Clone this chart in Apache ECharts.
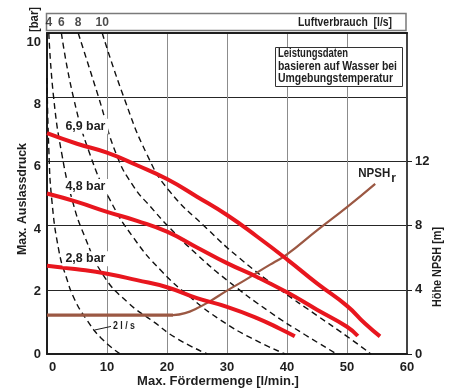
<!DOCTYPE html>
<html>
<head>
<meta charset="utf-8">
<script src="https://cdn.jsdelivr.net/npm/echarts@6/dist/echarts.min.js"></script>
<style>
html,body{margin:0;padding:0;background:#fff}
#chart{width:458px;height:392px}
</style>
</head>
<body>
<div id="chart"></div>
<script>
// Pump performance curves: discharge pressure vs. flow, air consumption lines and NPSHr.
const FONT = '"Liberation Sans","Arial",sans-serif';

// Flow axis (l/min), pressure axis (bar), NPSH axis (m)
const flowTicks = [0, 10, 20, 30, 40, 50, 60];
const pressureTicks = [0, 2, 4, 6, 8, 10];
const npshTicks = [0, 4, 8, 12];

// Discharge pressure curves at given air supply pressure: [flow, pressure]
const curveNames = ['6,9 bar', '4,8 bar', '2,8 bar'];
const curve69 = [[0,6.88],[5,6.55],[10,6.27],[15,5.88],[20,5.45],[25,4.9],[30,4.33],[35,3.66],[40,2.95],[45,2.2],[50,1.5],[53,0.95],[55.5,0.55]];
const curve48 = [[0,5.0],[5,4.74],[10,4.43],[15,4.15],[20,3.81],[25,3.32],[30,2.83],[35,2.4],[40,1.92],[45,1.38],[50,0.85],[51.8,0.56]];
const curve28 = [[0,2.75],[5,2.64],[10,2.5],[15,2.3],[20,2.08],[25,1.74],[30,1.47],[35,1.12],[38.9,0.78],[41.3,0.55]];

// Air consumption lines (l/s): [flow, pressure]
const airLabels = ['2', '4', '6', '8', '10'];
const air2 = [[0,8.6],[0.3,6.4],[0.8,4.8],[2.0,3.2],[3.2,2.4],[4.6,1.7],[6.5,1.1],[9.0,0.5],[12.2,0]];
const air4 = [[0.3,10],[1.1,8],[2.5,6.2],[4.2,4.8],[6.2,3.7],[9.4,2.45],[13.5,1.6],[17.8,1.0],[21.5,0.5],[26.7,0]];
const air6 = [[2.4,10],[4.4,8],[7.2,6.2],[10.5,4.8],[14.5,3.6],[19,2.6],[24,1.75],[29,1.05],[34,0.5],[39.7,0]];
const air8 = [[5.2,10],[8.6,8],[11.6,6.2],[14.5,5.2],[17.2,4.6],[20.6,3.9],[25,3.1],[30,2.3],[37.2,1.3],[43,0.6],[48.3,0]];
const air10 = [[9.2,10],[12.8,8],[16.7,6.2],[20.3,5.1],[26.7,3.9],[32,3.0],[38.9,2.0],[45,1.2],[50,0.55],[54,0]];

// Required NPSH (m) vs flow
const npshCurve = [[0,2.42],[21,2.42],[23,2.55],[25,2.85],[27,3.25],[30,3.95],[33,4.6],[36,5.3],[38,5.75],[40,6.2],[45,7.7],[50,9.15],[54.7,10.6]];

const chart = echarts.init(document.getElementById('chart'), null, {renderer: 'canvas'});

const pressureCurves = [curve69, curve48, curve28];
const airCurves = [air2, air4, air6, air8, air10];

const dark = '#1e1e1e';
const red = '#e8161e';
const brown = '#9b5843';

// horizontal squeeze so bold text fits a given width (condensed look)
const measureCtx = document.createElement('canvas').getContext('2d');
function squeeze(text, size, width) {
  measureCtx.font = 'bold ' + size + 'px ' + FONT;
  return Math.min(1, width / measureCtx.measureText(text).width);
}

const series = [];
airCurves.forEach((c, i) => {
  series.push({
    type: 'line', name: 'air' + airLabels[i], data: c, showSymbol: false, smooth: 0.5,
    lineStyle: {color: '#111', width: 1.4, type: [6, 4]}, z: 2, silent: true
  });
});
series.push({
  type: 'line', yAxisIndex: 1, data: npshCurve.slice(0, 2), showSymbol: false,
  lineStyle: {color: brown, width: 3.2}, z: 3, silent: true
});
series.push({
  type: 'line', yAxisIndex: 1, data: npshCurve.slice(1), showSymbol: false, smooth: 0.5,
  lineStyle: {color: brown, width: 2.2}, z: 3, silent: true
});
pressureCurves.forEach((c, i) => {
  series.push({
    type: 'line', name: curveNames[i], data: c, showSymbol: false, smooth: 0.5,
    lineStyle: {color: red, width: 4, cap: 'butt'}, z: 4, silent: true
  });
});
// air-flow values written above the plot, at the top of each line
series.push({
  type: 'scatter', symbolSize: 0, silent: true, z: 5,
  data: airCurves.slice(1).map((c, i) => ({value: c[0], label: {formatter: airLabels[i + 1]}})),
  label: {show: true, position: 'top', distance: 4, fontFamily: FONT, fontWeight: 'bold', fontSize: 12, color: dark}
});

// pressure tick labels sit a little below their grid lines
const yRich = {};
pressureTicks.forEach(v => {
  yRich['p' + v] = {padding: [Math.round(v * 1.8), 0, 0, 0], fontFamily: FONT, fontWeight: 'bold', fontSize: 13, color: dark};
});

chart.setOption({
  animation: false,
  backgroundColor: '#fff',
  grid: {left: 47, top: 33, width: 360, height: 321, containLabel: false},
  xAxis: [{
    type: 'value', min: flowTicks[0], max: flowTicks[flowTicks.length - 1], interval: 10,
    axisLine: {show: true, lineStyle: {color: dark, width: 2}},
    axisTick: {show: false},
    splitLine: {show: true, lineStyle: {color: '#8c8c8c', width: 1}},
    axisLabel: {
      margin: 7, fontFamily: FONT, fontWeight: 'bold', fontSize: 13, color: dark,
      formatter: v => v === 0 ? '{z|0}' : String(v),
      rich: {z: {padding: [0, 0, 0, 11], fontFamily: FONT, fontWeight: 'bold', fontSize: 13, color: dark}}
    }
  }, {
    type: 'value', position: 'top', min: 0, max: 60,
    axisLine: {show: true, onZero: false, lineStyle: {color: dark, width: 2}},
    axisTick: {show: false}, axisLabel: {show: false}, splitLine: {show: false}
  }],
  yAxis: [{
    type: 'value', min: pressureTicks[0], max: pressureTicks[pressureTicks.length - 1], interval: 2,
    axisLine: {show: true, lineStyle: {color: dark, width: 2}},
    axisTick: {show: false},
    splitLine: {show: true, lineStyle: {color: '#262626', width: 1}},
    axisLabel: {margin: 6, fontFamily: FONT, fontWeight: 'bold', fontSize: 13, color: dark,
      formatter: v => '{p' + v + '|' + v + '}', rich: yRich}
  }, {
    type: 'value', position: 'right', min: 0, max: 20, interval: 4,
    axisLine: {show: true, onZero: false, lineStyle: {color: '#444', width: 2}},
    axisTick: {show: true, length: 5, customValues: npshTicks, lineStyle: {color: dark}},
    splitLine: {show: false},
    axisLabel: {margin: 8, customValues: npshTicks, fontFamily: FONT, fontWeight: 'bold', fontSize: 13, color: dark,
      padding: [3, 0, 0, 0]}
  }],
  series: series
});

// annotations placed from data coordinates
const px = (pt, yi) => chart.convertToPixel({xAxisIndex: 0, yAxisIndex: yi || 0}, pt);
const graphics = [];

function label(text, x, y, size, width, opts) {
  return Object.assign({
    type: 'text', x: x, y: y, scaleX: squeeze(text, size, width), z: 6,
    style: {text: text, fontFamily: FONT, fontWeight: 'bold', fontSize: size, fill: dark,
      align: 'center', verticalAlign: 'middle'}
  }, opts || {});
}

// frame above the plot for air consumption values
graphics.push({type: 'rect', shape: {x: 46.5, y: 13.5, width: 359.5, height: 17}, style: {fill: 'none', stroke: '#7a7a7a', lineWidth: 1.5}, z: 1});
const lv = label('Luftverbrauch  [l/s]', 392, 23, 12, 94);
lv.style.align = 'right';
graphics.push(lv);

// axis titles
graphics.push(label('[bar]', 35, 19.5, 12, 25, {rotation: Math.PI / 2}));
graphics.push(label('Max. Auslassdruck', 22, 199, 13, 112, {rotation: Math.PI / 2}));
graphics.push(label('Max. Fördermenge [l/min.]', 218, 381, 13, 162));
graphics.push(label('Höhe NPSH [m]', 437, 267, 13, 80, {rotation: Math.PI / 2}));

// note box
graphics.push({type: 'rect', shape: {x: 275.5, y: 47.5, width: 127, height: 39}, style: {fill: '#fff', stroke: '#333', lineWidth: 1}, z: 6});
[['Leistungsdaten', 70], ['basieren auf Wasser bei', 119], ['Umgebungstemperatur', 115]].forEach((t, i) => {
  const g = label(t[0], 278, 54 + i * 12.4, 12, t[1], {z: 7});
  g.style.align = 'left';
  graphics.push(g);
});

// pressure curve names, just above each curve
pressureCurves.forEach((c, i) => {
  const p = px([6.4, c[0][1]]);
  const g = label(curveNames[i], p[0], p[1] - 7, 13, 40);
  g.style.backgroundColor = '#fff';
  g.style.padding = [1, 3];
  graphics.push(g);
});

// NPSHr label near the end of the curve
const npEnd = px(npshCurve[npshCurve.length - 1], 1);
graphics.push(label('NPSH', npEnd[0] - 1, npEnd[1] - 10, 13, 32));
graphics.push(label('r', npEnd[0] + 18.5, npEnd[1] - 5, 12, 8));

// 2 l/s label with leader line
const a2 = px([8, 0.75]);
graphics.push({type: 'line', shape: {x1: a2[0], y1: a2[1], x2: a2[0] + 16, y2: a2[1] - 3.5}, style: {stroke: dark, lineWidth: 1}, z: 6});
const l2 = label(airLabels[0] + ' l / s', a2[0] + 18, a2[1] - 3.5, 11, 22);
l2.style.align = 'left';
graphics.push(l2);

chart.setOption({graphic: graphics});
</script>
</body>
</html>
